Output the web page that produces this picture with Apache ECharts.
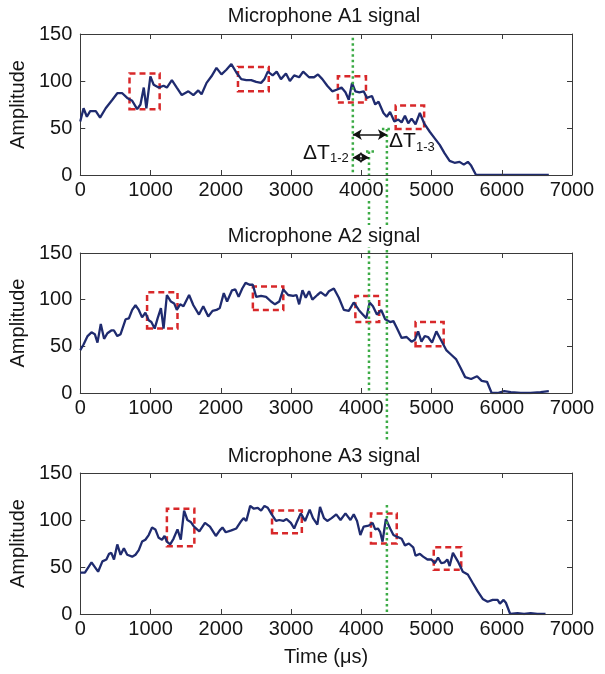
<!DOCTYPE html>
<html>
<head>
<meta charset="utf-8">
<script src="https://cdn.jsdelivr.net/npm/echarts@6/dist/echarts.min.js"></script>
<style>
  html, body { margin: 0; padding: 0; background: #fff; }
  #chart { width: 605px; height: 674px; }
</style>
</head>
<body>
<div id="chart"></div>
<script>
// Signal envelopes recorded at the three microphones: [time (µs), amplitude]
const signalA1 = [[0,57],[47,71],[94,62],[141,68],[221,68],[282,61],[362,71],[457,80],[527,87],[598,87],[668,82],[739,79],[810,70],[857,75],[904,93],[941,71],[998,105],[1045,96],[1116,93],[1186,95],[1233,93],[1304,101],[1374,93],[1445,85],[1539,89],[1610,85],[1680,90],[1727,86],[1798,98],[1868,105],[1939,114],[2010,107],[2080,112],[2151,118],[2222,109],[2292,102],[2363,101],[2433,101],[2504,99],[2574,98],[2622,102],[2669,110],[2739,106],[2796,110],[2857,102],[2928,108],[2984,100],[3045,106],[3116,104],[3173,110],[3257,104],[3328,104],[3384,107],[3446,102],[3516,95],[3587,89],[3658,91],[3719,93],[3775,88],[3822,80],[3869,98],[3916,89],[3973,88],[4034,89],[4081,82],[4152,84],[4199,75],[4246,78],[4316,66],[4363,62],[4410,67],[4471,57],[4528,59],[4575,56],[4622,63],[4669,55],[4716,60],[4773,54],[4834,66],[4895,55],[4975,46],[5046,39],[5117,32],[5187,23],[5258,15],[5328,13],[5399,14],[5460,11],[5517,14],[5564,10],[5634,0],[6670,0]];

const signalA2 = [[0,46],[47,52],[104,61],[160,65],[207,63],[245,54],[292,74],[339,58],[386,64],[442,67],[480,67],[527,61],[574,63],[645,79],[692,80],[739,89],[786,94],[833,89],[880,81],[927,86],[974,78],[1012,76],[1059,69],[1101,80],[1148,91],[1186,69],[1233,105],[1290,98],[1337,96],[1374,89],[1422,95],[1469,93],[1549,105],[1610,94],[1690,84],[1751,93],[1822,82],[1883,88],[1939,89],[1986,91],[2043,107],[2090,98],[2160,110],[2207,111],[2254,103],[2306,112],[2353,118],[2410,116],[2457,116],[2504,103],[2574,104],[2645,103],[2716,98],[2772,95],[2833,98],[2890,111],[2960,105],[3031,104],[3078,105],[3116,95],[3163,110],[3210,102],[3257,109],[3304,100],[3375,105],[3422,108],[3493,104],[3540,109],[3610,112],[3681,102],[3752,89],[3823,88],[3893,97],[3964,89],[4012,85],[4072,80],[4119,97],[4166,93],[4223,84],[4284,89],[4341,79],[4411,76],[4458,77],[4505,70],[4575,59],[4646,60],[4716,55],[4763,57],[4810,66],[4857,55],[4904,61],[4951,60],[5008,54],[5069,66],[5140,56],[5210,46],[5281,41],[5352,36],[5413,27],[5479,17],[5564,15],[5649,18],[5715,13],[5790,12],[5856,0],[5941,0],[6035,2],[6129,1],[6270,0],[6411,0],[6552,1],[6670,2]];

const signalA3 = [[0,44],[66,44],[160,55],[254,45],[315,56],[372,58],[410,64],[442,65],[480,58],[527,74],[574,63],[621,70],[668,63],[739,61],[786,63],[833,68],[880,77],[927,79],[974,84],[1022,92],[1069,90],[1116,81],[1163,79],[1200,83],[1233,77],[1280,74],[1327,80],[1384,90],[1431,79],[1478,110],[1525,100],[1572,98],[1619,93],[1695,88],[1775,97],[1846,93],[1930,83],[1986,89],[2024,92],[2071,87],[2151,89],[2222,91],[2292,99],[2325,102],[2363,99],[2419,115],[2471,112],[2527,113],[2574,110],[2622,115],[2669,113],[2725,106],[2786,99],[2833,100],[2890,99],[2937,101],[2998,97],[3045,91],[3078,97],[3139,107],[3200,99],[3266,111],[3313,102],[3375,95],[3413,114],[3469,102],[3516,99],[3578,102],[3644,106],[3705,100],[3775,107],[3846,100],[3893,106],[3940,99],[3987,84],[4034,93],[4105,94],[4161,97],[4199,90],[4237,91],[4270,87],[4303,77],[4350,101],[4411,91],[4458,84],[4514,82],[4575,80],[4622,73],[4678,75],[4740,71],[4773,62],[4834,64],[4881,61],[4942,58],[4999,58],[5046,54],[5093,60],[5140,54],[5187,55],[5225,58],[5258,51],[5305,65],[5375,56],[5446,45],[5517,42],[5587,33],[5658,24],[5729,16],[5799,13],[5870,15],[5941,15],[5974,11],[6026,15],[6059,12],[6120,0],[6224,1],[6318,0],[6411,1],[6506,0],[6623,0]];

// Highlighted feature windows: [tStart, ampLow, tEnd, ampHigh]
const windowsA1 = [[701,70,1130,108],[2245,89,2683,115],[3667,77,4067,105],[4490,49,4895,74]];
const windowsA2 = [[951,69,1384,108],[2457,89,2890,114],[3916,76,4255,104],[4773,50,5173,76]];
const windowsA3 = [[1233,72,1624,112],[2730,86,3154,110],[4138,75,4505,107],[5032,47,5423,71]];

// Arrival time of the matched feature at A1, A2, A3 (µs)
const arrivalTimes = [3880, 4110, 4365];

const panelTitles = ['Microphone A1 signal', 'Microphone A2 signal', 'Microphone A3 signal'];
const signals = [signalA1, signalA2, signalA3];
const windows = [windowsA1, windowsA2, windowsA3];

// ---- layout / style ----
const FONT = "'Liberation Sans', Arial, sans-serif";
const TEXT = '#151515';
const AXIS = '#3a3a3a';
const panels = [
  { top: 34, height: 141, titleY: 16 },
  { top: 253, height: 140, titleY: 236 },
  { top: 473, height: 141, titleY: 456 }
];
const PLOT_LEFT = 76, PLOT_WIDTH = 496;
// annotation levels (in A1 amplitude units) for the delay arrows
const arrowLevel13 = 43, arrowLevel12 = 18.6;
const plain = v => String(v);

const chart = echarts.init(document.getElementById('chart'), null, { renderer: 'canvas' });

const grid = [], xAxis = [], yAxis = [], series = [];
panels.forEach((p, i) => {
  grid.push({ left: PLOT_LEFT, width: PLOT_WIDTH, top: p.top, height: p.height, containLabel: false });
  const tick = { show: true, inside: true, length: 5, lineStyle: { color: AXIS, width: 1 } };
  const line = { show: true, onZero: false, lineStyle: { color: AXIS, width: 1 } };
  xAxis.push({
    gridIndex: i, type: 'value', position: 'bottom', min: 0, max: 7000, interval: 1000,
    axisLine: line, axisTick: tick, splitLine: { show: false }, z: 5,
    axisLabel: { fontSize: 20, color: TEXT, fontFamily: FONT, margin: 5, backgroundColor: '#fff', formatter: plain },
    name: i === 2 ? 'Time (μs)' : '', nameLocation: 'middle', nameGap: 33,
    nameTextStyle: { fontSize: 20, color: TEXT, fontFamily: FONT }
  });
  xAxis.push({
    gridIndex: i, type: 'value', position: 'top', min: 0, max: 7000, interval: 1000,
    axisLine: line, axisTick: tick, splitLine: { show: false }, axisLabel: { show: false }
  });
  yAxis.push({
    gridIndex: i, type: 'value', position: 'left', min: 0, max: 150, interval: 50,
    axisLine: line, axisTick: tick, splitLine: { show: false },
    axisLabel: { fontSize: 20, color: TEXT, fontFamily: FONT, margin: 8, formatter: plain },
    name: 'Amplitude', nameLocation: 'middle', nameGap: 46,
    nameTextStyle: { fontSize: 20, color: TEXT, fontFamily: FONT }
  });
  yAxis.push({
    gridIndex: i, type: 'value', position: 'right', min: 0, max: 150, interval: 50,
    axisLine: line, axisTick: tick, splitLine: { show: false }, axisLabel: { show: false }
  });

  const s = {
    type: 'line', xAxisIndex: 2 * i, yAxisIndex: 2 * i,
    data: signals[i], showSymbol: false, symbol: 'none', z: 3,
    lineStyle: { color: '#1f2b6f', width: 2.3 },
    markArea: {
      silent: true,
      itemStyle: { color: 'rgba(0,0,0,0)', borderColor: '#d8282a', borderWidth: 2.5, borderType: [6, 4] },
      data: windows[i].map(w => [{ coord: [w[0], w[1]] }, { coord: [w[2], w[3]] }])
    }
  };
  if (i === 0) {
    s.markLine = {
      silent: true, symbol: ['arrow', 'arrow'], symbolSize: [8, 9],
      lineStyle: { color: '#111', width: 1.5, type: 'solid' },
      label: { show: false },
      data: [
        [{ coord: [arrivalTimes[0], arrowLevel13] }, { coord: [arrivalTimes[2], arrowLevel13] }],
        [{ coord: [arrivalTimes[0], arrowLevel12] }, { coord: [arrivalTimes[1], arrowLevel12] }]
      ]
    };
  }
  series.push(s);
});

chart.setOption({ animation: false, backgroundColor: '#fff', grid, xAxis, yAxis, series });

// ---- delay markers, drawn in pixel space from the axis scales ----
const px = (panel, t, a) => chart.convertToPixel({ xAxisIndex: 2 * panel, yAxisIndex: 2 * panel }, [t, a]);
const GREEN = { stroke: '#3cab46', lineWidth: 2.5, lineDash: [2.5, 3], fill: null };
const graphic = [];
function greenLine(p1, p2) {
  graphic.push({ type: 'line', z: 4, silent: true,
    shape: { x1: p1[0], y1: p1[1], x2: p2[0], y2: p2[1] }, style: GREEN });
}
const [t1, t2, t3] = arrivalTimes;
greenLine(px(0, t1, 146), px(0, t1, 0));
const hook2 = px(0, t2, 25), hook3 = px(0, t3, 49);
greenLine(hook2, px(1, t2, 0));
greenLine(hook3, px(1, t3, -50));
greenLine([hook2[0] - 3, hook2[1]], [hook2[0] + 8, hook2[1]]);
greenLine([hook3[0] - 5, hook3[1]], [hook3[0] + 6, hook3[1]]);
greenLine(px(2, t3, 116), px(2, t3, 0));

// delay labels
const a13 = px(0, t3, arrowLevel13), a12 = px(0, t1, arrowLevel12);
function txt(x, y, text, size, align) {
  graphic.push({ type: 'text', z: 10, silent: true, x, y,
    style: { text, fontSize: size, fontFamily: FONT, fill: '#111', align, verticalAlign: 'middle' } });
}
txt(a13[0] + 2, a13[1] + 7, 'ΔT', 21, 'left');
txt(a13[0] + 29, a13[1] + 13, '1-3', 13, 'left');
txt(a12[0] - 4, a12[1] + 1, '1-2', 13, 'right');
txt(a12[0] - 23, a12[1] - 4, 'ΔT', 21, 'right');

// panel titles
panels.forEach((p, i) => {
  graphic.push({ type: 'text', z: 10, silent: true, x: PLOT_LEFT + PLOT_WIDTH / 2, y: p.titleY,
    style: { text: panelTitles[i], fontSize: 20, fontFamily: FONT, fill: TEXT,
      align: 'center', verticalAlign: 'middle', backgroundColor: '#fff', padding: [1, 2] } });
});

chart.setOption({ graphic });
</script>
</body>
</html>
